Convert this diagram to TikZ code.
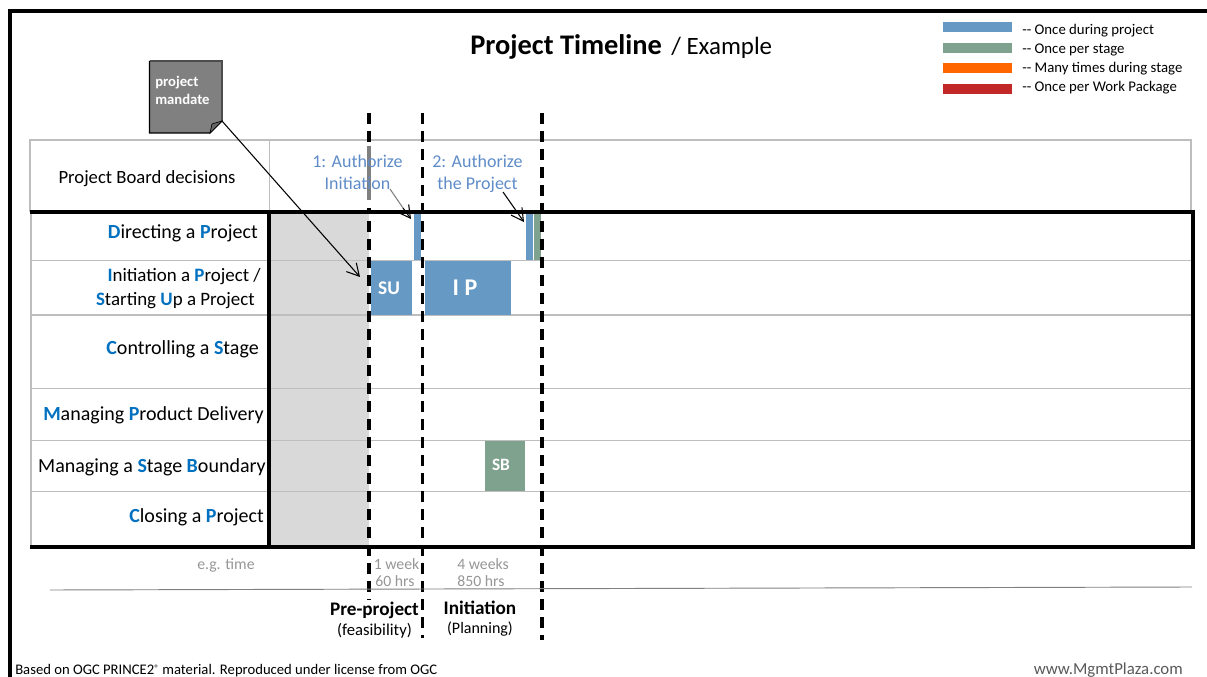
\documentclass[tikz,border=0pt]{standalone}
\usepackage{fontspec}
\setmainfont{Carlito}
\usetikzlibrary{arrows.meta,fit}
\definecolor{pblue}{HTML}{6699C4}
\definecolor{pgreen}{HTML}{7FA28E}
\definecolor{porange}{HTML}{FF6600}
\definecolor{pred}{HTML}{C32828}
\definecolor{lblue}{HTML}{0070C0}
\definecolor{atext}{HTML}{5F8CC8}
\definecolor{gline}{HTML}{BEBEBE}
\definecolor{gshade}{HTML}{D9D9D9}
\definecolor{gtext}{HTML}{969696}
\newcommand{\LB}[1]{\textcolor{lblue}{\textbf{#1}}}
\newcommand{\fsz}[1]{\fontsize{#1}{#1}\selectfont}
\tikzset{
  x=0.75pt,y=-0.75pt,
  block/.style={inner sep=0pt,outer sep=0pt,draw=none,text=white,font=\fsz{14}\bfseries},
  rowlab/.style={anchor=east,inner sep=0pt,align=right,font=\fsz{15},text=black},
  rowline/.style={draw=gline,line width=1.1pt},
  frameline/.style={draw=black,line width=3pt},
  phase/.style={draw=black,line width=2.3pt,dash pattern=on 8pt off 5.5pt},
  conn/.style={draw=black,line width=0.8pt,-{Straight Barb[length=9pt,width=10pt,line width=0.8pt]}},
  auth/.style={text=atext,font=\fsz{13.5},inner sep=0pt,align=center},
  legend/.style={anchor=west,inner sep=0pt,font=\fsz{11.1}},
  small/.style={text=gtext,font=\fsz{11.8},inner sep=0pt,align=center,text height=8pt,text depth=2pt},
}
\begin{document}
\begin{tikzpicture}
\useasboundingbox (0,0) rectangle (1207,677);
% outer frame
\coordinate (f1) at (10.3,677); \coordinate (f2) at (10.3,11.3); \coordinate (f3) at (1207,11.3);
\draw[draw=black,line width=3pt] (f1) -- (f2) -- (f3);
% title
\node[anchor=base west,inner sep=0pt,font=\fsz{21.3}\bfseries] (title) at (470,55) {Project Timeline};
\node[anchor=base west,inner sep=0pt,font=\fsz{18.7}] (subtitle) at (671,55) {/ Example};
% legend
\node[fit={(943,22)(1012,32)},block,fill=pblue] (k1) {};
\node[fit={(943,43)(1012,53)},block,fill=pgreen] (k2) {};
\node[fit={(943,63)(1012,73)},block,fill=porange] (k3) {};
\node[fit={(943,84)(1012,94)},block,fill=pred] (k4) {};
\node[legend] (t1) at (1022,30.5) {-{}- Once during project};
\node[legend] (t2) at (1022,49.5) {-{}- Once per stage};
\node[legend] (t3) at (1022,68.5) {-{}- Many times during stage};
\node[legend] (t4) at (1022,87.5) {-{}- Once per Work Package};
% grey shade
\node[fit={(270,213)(369,546)},block,fill=gshade] (shade) {};
% header
\draw[draw=gline,line width=1.5pt] (1191,212) -- (1191,140) -- (29.5,140) -- (29.5,212);
\draw[draw=gline,line width=0.7pt] (269.5,140) -- (269.5,212);
% row lines
\coordinate (ra) at (31,260.5); \coordinate (rb) at (1192,260.5);
\draw[rowline] (ra) -- (rb);
\draw[rowline] (31,315) -- (1192,315);
\draw[rowline] (31,388.5) -- (1192,388.5);
\draw[rowline] (31,440.5) -- (1192,440.5);
\draw[rowline] (31,491.5) -- (1192,491.5);
\draw[draw=gline,line width=1.5pt] (31,212) -- (31,547);
% blocks
\node[fit={(414,214)(421,260)},block,fill=pblue] (b1) {};
\node[fit={(371,261)(412,315)},block,fill=pblue] (su) {};
\node[fit={(425,261)(511,315)},block,fill=pblue] (ip) {};
\node[fit={(526,214)(533,260)},block,fill=pblue] (b2) {};
\node[fit={(534,214)(541,260)},block,fill=pgreen] (g2) {};
\node[fit={(485,441)(525,491)},block,fill=pgreen] (sb) {};
\node[block,font=\fsz{14.5}\bfseries] (sulab) at (389,288) {SU};
\node[block,font=\fsz{18}\bfseries] (iplab) at (465,288) {I P};
\node[block,font=\fsz{13}\bfseries] (sblab) at (501,464.5) {SB};
% thick table frame
\draw[frameline] (30,212.5) -- (1193,212.5) -- (1193,547) -- (30,547);
\draw[frameline] (269,212) -- (269,547);
% phase lines
\coordinate (p1a) at (369,113); \coordinate (p1b) at (369,600);
\coordinate (p2a) at (422.5,113); \coordinate (p2b) at (422.5,638);
\coordinate (p3a) at (542,113); \coordinate (p3b) at (542,640);
\draw[phase] (p1a) -- (p1b);
\draw[phase] (p2a) -- (p2b);
\draw[phase] (p3a) -- (p3b);
\draw[draw=gray,line width=2.4pt] (369,146) -- (369,200);
\draw[draw=white,line width=2.4pt] (369,200) -- (369,208);
% labels
\node[inner sep=0pt,font=\fsz{14}] (pb) at (147,179) {Project Board decisions};
\node[rowlab] (r1) at (258,233.5) {\LB{D}irecting a \LB{P}roject};
\node[rowlab,font=\fsz{14.2}] (r2) at (261,288.5) {\LB{I}nitiation a \LB{P}roject /\\[3.6pt]\LB{S}tarting \LB{U}p a Project\hspace*{4.5pt}};
\node[rowlab] (r3) at (259,349.5) {\LB{C}ontrolling a \LB{S}tage};
\node[rowlab] (r4) at (264,415.5) {\LB{M}anaging \LB{P}roduct Delivery};
\node[rowlab] (r5) at (266,467.5) {Managing a \LB{S}tage \LB{B}oundary};
\node[rowlab] (r6) at (264,517.5) {\LB{C}losing a \LB{P}roject};
% decisions
\node[auth] (a1) at (357.5,172.5) {1: Authorize\\[3pt]Initiation};
\node[auth] (a2) at (477.5,174) {2: Authorize\\[3pt]the Project};
\coordinate (a1s) at (390,189); \coordinate (a1m) at (403,208); \coordinate (a1e) at (411,219);
\coordinate (a2s) at (503,192); \coordinate (a2e) at (524,222);
\draw[draw=gray,line width=0.8pt] (a1s) -- (a1m);
\draw[conn] (a1m) -- (a1e);
\draw[conn] (a2s) -- (a2e);
% project mandate note
\coordinate (n1) at (149.5,61); \coordinate (n2) at (222,61); \coordinate (n3) at (222,121);
\coordinate (n4) at (210,133); \coordinate (n5) at (149.5,133);
\fill[fill=gray] (n1) -- (n2) -- (n3) -- (n4) -- (n5) -- cycle;
\draw[draw=black!70,line width=0.8pt] (n1) -- (n2) -- (n3);
\draw[draw=black,line width=0.8pt] (n3) -- (n4) -- (n5) -- (n1);
\fill[fill=black!60,draw=black,line width=0.5pt] (n4) -- (212,124) -- (n3) -- cycle;
\node[anchor=north west,inner sep=0pt,align=left,text=white,font=\fsz{11}\bfseries] (mand) at (155,76) {project\\[2.6pt]mandate};
\coordinate (me) at (360,277);
\draw[conn] (n3) -- (me);
% bottom
\node[small] (et) at (226,565.5) {e.g. time};
\node[small] (w1) at (396.5,565) {1 week};
\node[small] (h1) at (395,582) {60 hrs};
\node[small] (w2) at (483,565) {4 weeks};
\node[small] (h2) at (481,582) {850 hrs};
\coordinate (la) at (50,590); \coordinate (lb) at (1192,587);
\draw[draw=gray,line width=0.7pt] (la) -- (lb);
\node[inner sep=0pt,font=\fsz{14.4}\bfseries] (pp) at (374.5,610) {Pre-project};
\node[inner sep=0pt,font=\fsz{14.4}\bfseries] (in) at (480,608) {Initiation};
\node[inner sep=0pt,font=\fsz{12.5}] (fe) at (374.5,631) {(feasibility)};
\node[inner sep=0pt,font=\fsz{12}] (pl) at (480,629) {(Planning)};
\node[anchor=west,inner sep=0pt,font=\fsz{11}] (src) at (15,671) {Based on OGC PRINCE2\raisebox{2.5pt}{\fsz{7}®} material. Reproduced under license from OGC};
\node[anchor=east,inner sep=0pt,font=\fsz{12.6},text=black!65] (web) at (1183,670) {www.MgmtPlaza.com};
\end{tikzpicture}
\end{document}
